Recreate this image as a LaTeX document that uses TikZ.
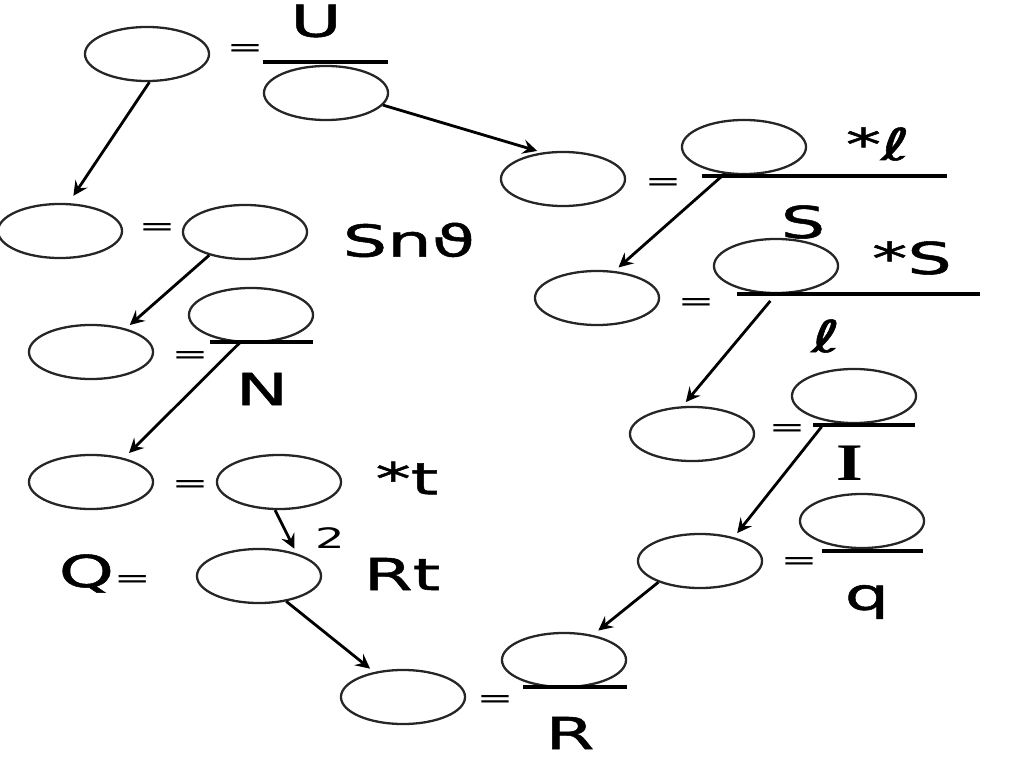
\documentclass[tikz,border=0pt]{standalone}
\usepackage{fontspec}
\setmainfont[FakeStretch=1.65]{DejaVu Sans}
\newfontfamily\bigsans[FakeStretch=1.6, FakeBold=1.2]{DejaVu Sans}
\newfontfamily\serifwide[FakeStretch=1.3]{Liberation Serif}
\usetikzlibrary{shapes.geometric}

\begin{document}
\begin{tikzpicture}[x=0.01cm, y=-0.01cm,
  blank/.style={draw=black!85, line width=0.65pt, ellipse, minimum width=1.24cm, minimum height=0.54cm, inner sep=0pt},
  big/.style={inner sep=0pt, font=\bigsans\fontsize{12.5}{14}\selectfont},
  eq/.style={inner sep=0pt, font=\fontsize{7.5}{9}\selectfont},
  bar/.style={line width=1.1pt},
  arr/.style={line width=0.8pt, ->, >=stealth, shorten >=1.5pt}]
\useasboundingbox (0,0) rectangle (1024,767);
% left column
\node[blank] (e1) at (147,54) {};
\node[eq] (eqa) at (245,51) {=};
\node[big] (tU) at (316,21) {U};
\draw[bar] (263,62) -- (388,62);
\node[blank] (e2) at (326,93) {};
\node[blank] (e5) at (60,231) {};
\node[eq] (eqb) at (157,230) {=};
\node[blank] (e6) at (245,232) {};
\node[big] (tSn) at (409,240) {Snϑ};
\node[blank] (e9) at (91,352) {};
\node[eq] (eqc) at (190,358) {=};
\node[blank] (e10) at (251,315) {};
\draw[bar] (210,342) -- (313,342);
\node[big] (tN) at (262,389) {N};
\node[blank] (e13) at (91,482) {};
\node[eq] (eqd) at (190,487) {=};
\node[blank] (e14) at (279,482) {};
\node[big] (tt) at (407,478) {*t};
\node[inner sep=0pt, font=\fontsize{8}{9}\selectfont] (tsq) at (330,538) {2};
\node[big, anchor=base west] (tQ) at (58,587) {Q{\normalfont\fontsize{7.5}{9}\selectfont=}};
\node[blank] (e17) at (259,576) {};
\node[big] (tRt) at (402,574) {Rt};
\node[blank] (e18) at (403,697) {};
\node[eq] (eqi) at (495,702) {=};
\node[blank] (e19) at (564,660) {};
\draw[bar] (523,687) -- (627,687);
\node[big] (tR) at (570,733) {R};
% right column
\node[blank] (e3) at (563,179) {};
\node[eq] (eqe) at (663,185) {=};
\node[blank] (e4) at (744,147) {};
\node[big] (tl) at (878,144) {*ℓ};
\draw[bar] (702,176) -- (947,176);
\node[big] (tS) at (803,222) {S};
\node[blank] (e7) at (597,298) {};
\node[eq] (eqf) at (696,305) {=};
\node[blank] (e8) at (776,266) {};
\node[big] (tSs) at (912,258) {*S};
\draw[bar] (737,294) -- (980,294);
\node[big] (tl2) at (826,336) {ℓ};
\node[blank] (e11) at (692,434) {};
\node[eq] (eqg) at (787,431) {=};
\node[blank] (e12) at (854,396) {};
\draw[bar] (813,425) -- (915,425);
\node[inner sep=0pt, font=\serifwide\bfseries\fontsize{15}{17}\selectfont] (tI) at (850,463) {I};
\node[blank] (e15) at (700,561) {};
\node[eq] (eqh) at (799,564) {=};
\node[blank] (e16) at (862,521) {};
\draw[bar] (822,551) -- (923,551);
\node[big] (tq) at (867,602) {q};
% arrows
\draw[arr, shorten >=2.5pt] (e1.275) -- (e5.73);
\draw[arr] (e2.348) -- (e3.128);
\draw[arr] (e4.234) -- (e7.57);
\draw[arr] (e6.213) -- (e9.34);
\draw[arr, shorten >=2pt] (e10.248) -- (e13.36);
\draw[arr, shorten <=2.5pt] (e8.south) -- (e11.109);
\draw[arr, shorten <=2pt] (e12.222) -- (e15.35);
\draw[arr] (e14.262) -- (e17.31);
\draw[arr] (e17.317) -- (e18.139);
\draw[arr, shorten >=2pt] (e15.207) -- (e19.41);
\end{tikzpicture}
\end{document}
